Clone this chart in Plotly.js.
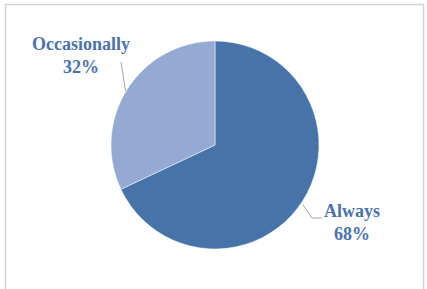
<!DOCTYPE html>
<html>
<head>
<meta charset="utf-8">
<script src="https://cdn.plot.ly/plotly-3.0.1.min.js"></script>
<style>html,body{margin:0;padding:0;background:#fff;}#chart{width:427px;height:289px;}</style>
</head>
<body>
<div id="chart"></div>
<script>
const categories = ["Always", "Occasionally"];
const values = [68, 32];
const sliceColors = ["#4674a9", "#95aad2"];

const W = 427, H = 289;
const cx = 215, cy = 145, R = 104;
const px = x => x / W;
const py = y => 1 - y / H;

const total = values.reduce((a, b) => a + b, 0);
const pct = values.map(v => Math.round(v / total * 100) + "%");

const trace = {
  type: "pie",
  labels: categories,
  values: values,
  sort: false,
  direction: "clockwise",
  rotation: 0,
  textinfo: "none",
  hoverinfo: "label+percent",
  marker: { colors: sliceColors, line: { color: "#ffffff", width: 0.5 } },
  domain: { x: [px(cx - R), px(cx + R)], y: [py(cy + R), py(cy - R)] },
  showlegend: false
};

const labelFont = { family: "Liberation Serif", size: 18, color: "#4a72aa", weight: 700 };

const annotations = [
  { x: px(81), y: py(56), text: categories[1] + "<br>" + pct[1] },
  { x: px(352), y: py(222), text: categories[0] + "<br>" + pct[0] }
].map(a => Object.assign({
  xref: "paper", yref: "paper", showarrow: false, font: labelFont,
  xanchor: "center", yanchor: "middle", align: "center"
}, a));

const lineStyle = { color: "#a6a6a6", width: 1 };
const shapes = [
  { type: "rect", xref: "paper", yref: "paper", x0: px(5.5), x1: px(423.5), y0: py(300), y1: py(4.5),
    line: { color: "#d4d4d4", width: 1.5 }, fillcolor: "rgba(0,0,0,0)", layer: "below" },
  { type: "path", xref: "paper", yref: "paper",
    path: `M ${px(121)} ${py(62)} L ${px(125.5)} ${py(91)}`, line: lineStyle },
  { type: "path", xref: "paper", yref: "paper",
    path: `M ${px(303)} ${py(205)} L ${px(312)} ${py(218)} L ${px(322)} ${py(218)}`, line: lineStyle }
];

const layout = {
  width: W, height: H,
  margin: { l: 0, r: 0, t: 0, b: 0 },
  paper_bgcolor: "#ffffff",
  plot_bgcolor: "#ffffff",
  annotations: annotations,
  shapes: shapes,
  showlegend: false
};

Plotly.newPlot("chart", [trace], layout, { displayModeBar: false, staticPlot: true });
</script>
</body>
</html>
